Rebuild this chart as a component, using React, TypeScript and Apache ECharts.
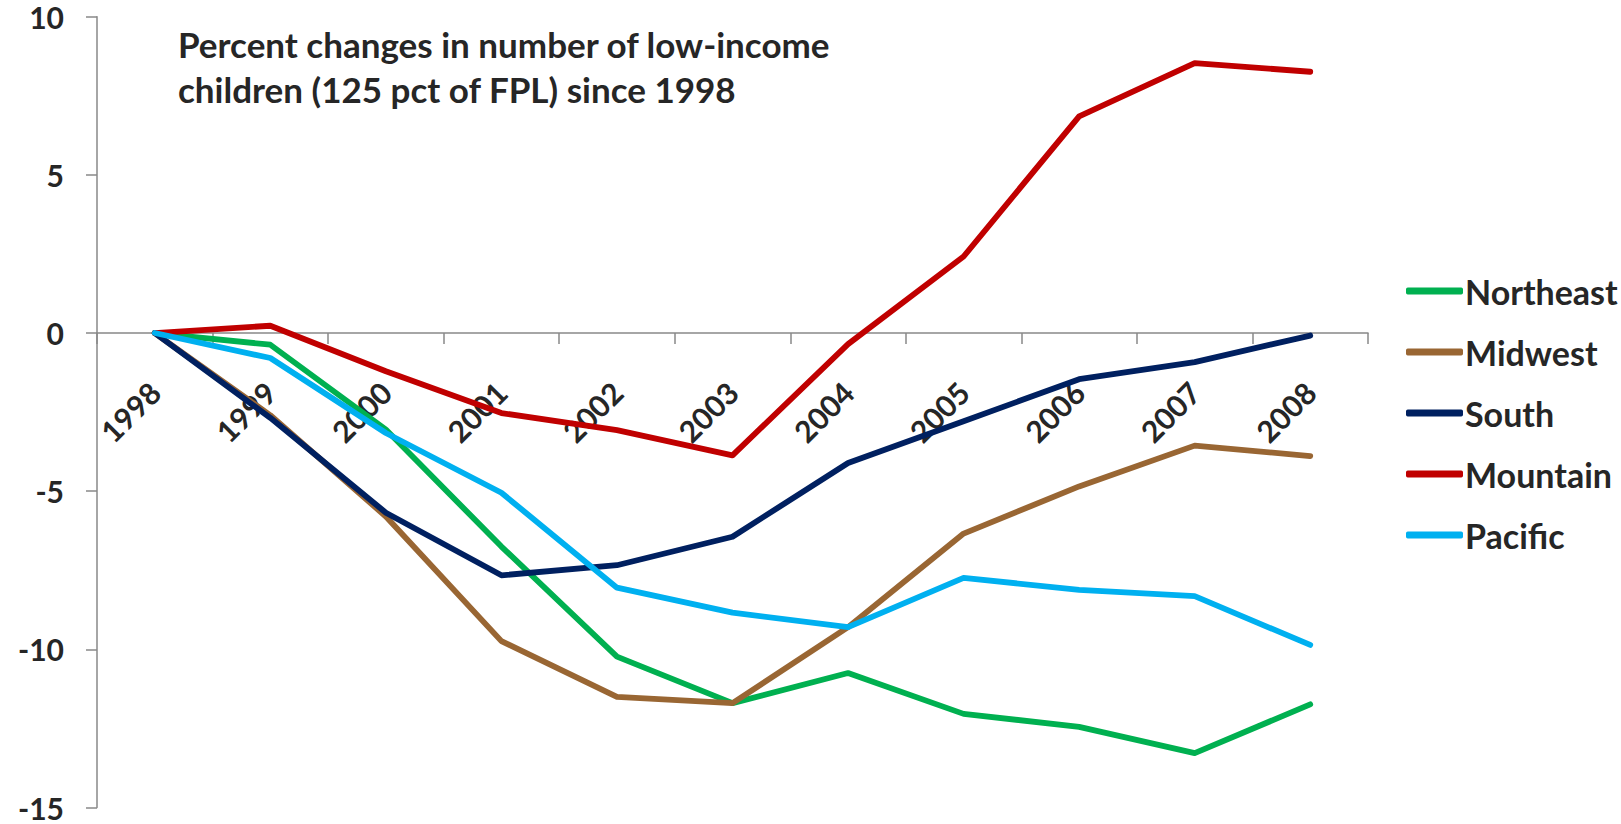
import React, { useEffect, useRef } from "react";
import * as echarts from "echarts";

const years = ["1998", "1999", "2000", "2001", "2002", "2003", "2004", "2005", "2006", "2007", "2008"];
const northeast = [0, -0.37, -3.05, -6.75, -10.23, -11.7, -10.75, -12.04, -12.45, -13.28, -11.74];
const midwest = [0, -2.6, -5.8, -9.74, -11.5, -11.7, -9.3, -6.34, -4.85, -3.56, -3.89];
const south = [0, -2.68, -5.68, -7.66, -7.34, -6.44, -4.11, -2.79, -1.46, -0.92, -0.08];
const mountain = [0, 0.23, -1.21, -2.53, -3.07, -3.87, -0.35, 2.42, 6.85, 8.53, 8.26];
const pacific = [0, -0.79, -3.16, -5.05, -8.05, -8.84, -9.3, -7.74, -8.12, -8.32, -9.86];

const seriesNames = ["Northeast", "Midwest", "South", "Mountain", "Pacific"];
const seriesData = [northeast, midwest, south, mountain, pacific];
const colors = ["#00B050", "#996633", "#002060", "#C00000", "#00B0F0"];
const titleText = "Percent changes in number of low-income\nchildren (125 pct of FPL) since 1998";

const yMin = -15;
const yMax = 10;
const yStep = 5;

const FONT = "Lato, 'Open Sans', sans-serif";
const TEXT = "#262626";
const AXIS = "#888888";

export default function App() {
  const ref = useRef<HTMLDivElement>(null);
  useEffect(() => {
    const chart = echarts.init(ref.current!, null, { renderer: "svg" });
    const labelStyle = { fontFamily: FONT, fontSize: 30, fontWeight: "bold", color: TEXT };
    chart.setOption({
      animation: false,
      backgroundColor: "#ffffff",
      textStyle: { fontFamily: FONT },
      title: {
        text: titleText,
        left: 178,
        top: 21,
        padding: 0,
        textStyle: { fontFamily: FONT, fontSize: 35, fontWeight: "bold", color: TEXT, lineHeight: 45 },
      },
      legend: {
        orient: "vertical",
        left: 1406,
        top: 274,
        padding: 0,
        itemWidth: 57,
        itemHeight: 7,
        itemGap: 27,
        icon: "roundRect",
        data: seriesNames,
        textStyle: { fontFamily: FONT, fontSize: 34, fontWeight: "bold", color: TEXT, lineHeight: 34, padding: [0, 0, 0, -3] },
      },
      grid: { left: 97, right: 253, top: 16.7, bottom: 16.5, outerBoundsMode: "none", containLabel: false },
      xAxis: [
        {
          type: "category",
          data: years,
          boundaryGap: true,
          axisLine: { onZero: true, lineStyle: { color: AXIS, width: 1.5 } },
          axisTick: { show: true, length: 11, lineStyle: { color: AXIS, width: 1.5 } },
          axisLabel: { show: false },
          splitLine: { show: false },
        },
        {
          type: "category",
          data: years,
          position: "bottom",
          boundaryGap: true,
          offset: 0,
          axisLine: { show: false, onZero: false },
          axisTick: { show: false },
          axisLabel: { rotate: 45, margin: 54, ...labelStyle },
          splitLine: { show: false },
        },
      ],
      yAxis: {
        type: "value",
        min: yMin,
        max: yMax,
        interval: yStep,
        axisLine: { show: true, lineStyle: { color: AXIS, width: 1.5 } },
        axisTick: { show: true, length: 11, lineStyle: { color: AXIS, width: 1.5 } },
        axisLabel: { margin: 33, fontFamily: FONT, fontSize: 30, fontWeight: "bold", color: TEXT },
        splitLine: { show: false },
      },
      series: seriesNames.map((name, i) => ({
        name,
        type: "line",
        xAxisIndex: 0,
        data: seriesData[i],
        symbol: "none",
        showSymbol: false,
        color: colors[i],
        lineStyle: { width: 5.8, color: colors[i], cap: "round", join: "round" },
        z: 2,
      })),
    });
    const y0 = chart.convertToPixel({ yAxisIndex: 0 }, 0) as number;
    const yB = chart.convertToPixel({ yAxisIndex: 0 }, yMin) as number;
    chart.setOption({ xAxis: [{}, { offset: y0 - yB }] });
    return () => chart.dispose();
  }, []);
  return (
    <div
      ref={ref}
      style={{ position: "fixed", left: 0, top: 0, width: 1621, height: 824 }}
    />
  );
}
